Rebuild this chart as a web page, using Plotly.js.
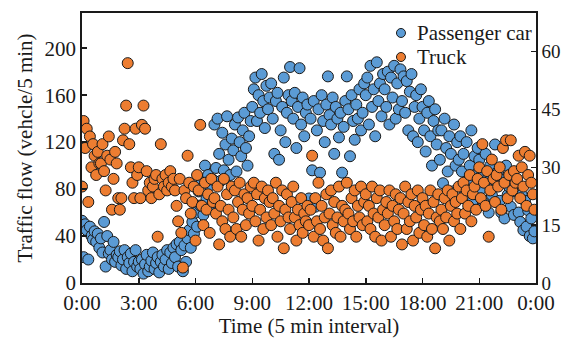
<!DOCTYPE html>
<html>
<head>
<meta charset="utf-8">
<script src="https://cdn.plot.ly/plotly-3.0.1.min.js"></script>
<style>html,body{margin:0;padding:0;background:#fff;}#chart{width:561px;height:338px;}</style>
</head>
<body>
<div id="chart"></div>
<script>
// Passenger car flow (vehicle / 5 min), 288 five-minute intervals, left axis
const carFlow = [
  53, 22, 50, 45, 20, 48, 40, 37, 44, 35, 42, 30,
  38, 26, 52, 14, 40, 25, 28, 20, 35, 18, 24, 22,
  27, 15, 20, 28, 12, 22, 17, 25, 10, 18, 28, 14,
  18, 12, 20, 8, 16, 24, 10, 14, 19, 26, 12, 17,
  22, 9, 18, 24, 14, 20, 28, 12, 26, 17, 30, 22,
  33, 14, 35, 28, 10, 32, 18, 38, 45, 30, 52, 42,
  60, 48, 78, 66, 86, 58, 100, 72, 92, 83, 64, 88,
  135, 98, 140, 110, 87, 128, 96, 118, 142, 105, 92, 123,
  113, 135, 95, 141, 120, 108, 130, 145, 115, 100, 125, 138,
  150, 165, 175, 138, 160, 145, 178, 155, 132, 168, 148, 158,
  170, 140, 110, 155, 162, 105, 130, 150, 175, 120, 145, 160,
  184, 155, 140, 162, 115, 150, 183, 135, 158, 125, 145, 152,
  72, 140, 96, 155, 65, 130, 148, 94, 160, 138, 120, 152,
  176, 143, 135, 158, 110, 150, 140, 124, 145, 94, 133, 155,
  176, 148, 108, 160, 138, 122, 152, 140, 165, 130, 145, 170,
  160, 175, 135, 185, 150, 165, 125, 188, 155, 170, 142, 178,
  165, 150, 180, 135, 175, 158, 185, 140, 170, 148, 182, 155,
  176, 145, 172, 130, 163, 178, 125, 150, 160, 120, 140, 165,
  150, 130, 112, 145, 155, 125, 100, 138, 148, 118, 130, 105,
  130, 85, 140, 115, 95, 125, 110, 78, 135, 100, 120, 105,
  125, 95, 110, 78, 120, 88, 100, 130, 70, 108, 92, 115,
  105, 80, 95, 68, 110, 88, 60, 100, 75, 92, 118, 85,
  95, 70, 60, 88, 55, 100, 75, 82, 65, 90, 58, 78,
  85, 60, 52, 75, 45, 70, 48, 62, 40, 55, 38, 44
];
// Truck flow (vehicle / 5 min), right axis
const truckFlow = [
  25, 42, 35, 40, 21, 38, 30, 36, 33, 28, 34, 31,
  31, 36, 29, 24, 33, 38, 32, 19, 27, 34, 31, 22,
  19, 22, 37, 40, 46, 57, 36, 30, 26, 22, 40, 28,
  30, 22, 41, 46, 40, 29, 24, 26, 22, 25, 27, 28,
  12, 23, 36, 27, 25, 28, 24, 26, 29, 25, 27, 24,
  20, 16, 27, 13, 4, 24, 22, 33, 26, 18, 21, 25,
  11, 28, 24, 41, 20, 15, 26, 19, 23, 13, 27, 21,
  22, 18, 25, 10, 20, 16, 27, 14, 23, 19, 12, 25,
  17, 24, 14, 21, 26, 12, 19, 23, 15, 22, 18, 25,
  20, 26, 16, 23, 11, 19, 25, 14, 22, 17, 24, 21,
  15, 22, 18, 26, 12, 20, 16, 24, 9, 19, 23, 17,
  14, 21, 25, 17, 11, 19, 15, 22, 13, 18, 16, 20,
  15, 19, 33, 12, 22, 16, 26, 14, 20, 11, 17, 23,
  9, 18, 24, 15, 21, 13, 17, 25, 12, 20, 16, 19,
  26, 18, 14, 22, 16, 24, 12, 20, 17, 25, 15, 21,
  23, 16, 20, 14, 25, 18, 12, 22, 17, 24, 11, 19,
  15, 21, 18, 24, 12, 20, 16, 23, 14, 19, 22, 10,
  18, 25, 14, 21, 16, 23, 11, 20, 17, 24, 13, 19,
  22, 15, 20, 12, 18, 24, 14, 21, 9, 17, 23, 16,
  19, 14, 22, 17, 24, 11, 20, 23, 16, 21, 18, 25,
  14, 22, 26, 18, 24, 20, 28, 16, 23, 25, 19, 27,
  30, 22, 36, 26, 20, 29, 12, 24, 32, 27, 21, 28,
  25, 30, 19, 35, 26, 37, 22, 28, 37, 24, 29, 26,
  27, 33, 22, 30, 25, 34, 20, 28, 33, 26, 23, 19
];
const xTickVals = [0, 3, 6, 9, 12, 15, 18, 21, 24];
const xTickText = ["0:00", "3:00", "6:00", "9:00", "12:00", "15:00", "18:00", "21:00", "0:00"];
const leftTicks = [0, 40, 80, 120, 160, 200];
const rightTicks = [0, 15, 30, 45, 60];
const seriesNames = ["Passenger car", "Truck"];
const seriesColors = ["#5B9BD5", "#ED7D31"];

// time of each 5-min interval in hours
const hours = carFlow.map((_, i) => i / 12);

const fontFam = '"Liberation Serif", "Times New Roman", serif';
const ink = '#1a1a1a';
const fs = 21;

const traces = [
  {
    x: hours, y: carFlow, name: seriesNames[0], type: 'scatter', mode: 'markers',
    marker: {color: seriesColors[0], size: 11, line: {color: ink, width: 1}},
    yaxis: 'y', showlegend: false
  },
  {
    x: hours, y: truckFlow, name: seriesNames[1], type: 'scatter', mode: 'markers',
    marker: {color: seriesColors[1], size: 11, line: {color: ink, width: 1}},
    yaxis: 'y2', showlegend: false
  }
];

// Compact legend (inside top-right of the plot)
const legX = 0.7026, legTextX = 0.7335, legY = [0.926, 0.837];
const shapes = [], annotations = [];
seriesNames.forEach((nm, k) => {
  shapes.push({
    type: 'circle', xref: 'paper', yref: 'paper',
    xsizemode: 'pixel', ysizemode: 'pixel', xanchor: legX, yanchor: legY[k],
    x0: -4.5, x1: 4.5, y0: -4.5, y1: 4.5,
    fillcolor: seriesColors[k], line: {color: ink, width: 1}
  });
  annotations.push({
    xref: 'paper', yref: 'paper', x: legTextX, y: legY[k],
    xanchor: 'left', yanchor: 'middle', showarrow: false, text: nm,
    font: {family: fontFam, size: fs, color: ink}
  });
});

const layout = {
  width: 561, height: 338,
  margin: {l: 82, r: 25, t: 13, b: 55},
  paper_bgcolor: '#fff', plot_bgcolor: '#fff',
  font: {family: fontFam, size: fs, color: ink},
  showlegend: false,
  shapes: shapes,
  annotations: annotations,
  xaxis: {
    range: [0, 24], tickmode: 'array', tickvals: xTickVals, ticktext: xTickText,
    ticks: 'inside', ticklen: 5, tickwidth: 1.5, tickcolor: ink,
    showline: true, linecolor: ink, linewidth: 1.8, mirror: true,
    showgrid: false, zeroline: false,
    tickfont: {family: fontFam, size: fs, color: ink},
    title: {text: 'Time (5 min interval)', font: {family: fontFam, size: fs, color: ink}, standoff: 2}
  },
  yaxis: {
    range: [0, 230], tickmode: 'array', tickvals: leftTicks,
    ticks: 'inside', ticklen: 5, tickwidth: 1.5, tickcolor: ink,
    showline: true, linecolor: ink, linewidth: 1.8,
    showgrid: false, zeroline: false,
    tickfont: {family: fontFam, size: fs, color: ink},
    title: {text: 'Traffic flow (vehcle/5 min)', font: {family: fontFam, size: fs, color: ink}, standoff: 6}
  },
  yaxis2: {
    range: [0, 70], tickmode: 'array', tickvals: rightTicks,
    overlaying: 'y', side: 'right',
    ticks: 'inside', ticklen: 5, tickwidth: 1.5, tickcolor: ink,
    showline: true, linecolor: ink, linewidth: 1.8,
    showgrid: false, zeroline: false,
    tickfont: {family: fontFam, size: 19, color: ink}
  }
};

Plotly.newPlot('chart', traces, layout, {staticPlot: true, displayModeBar: false});
</script>
</body>
</html>
